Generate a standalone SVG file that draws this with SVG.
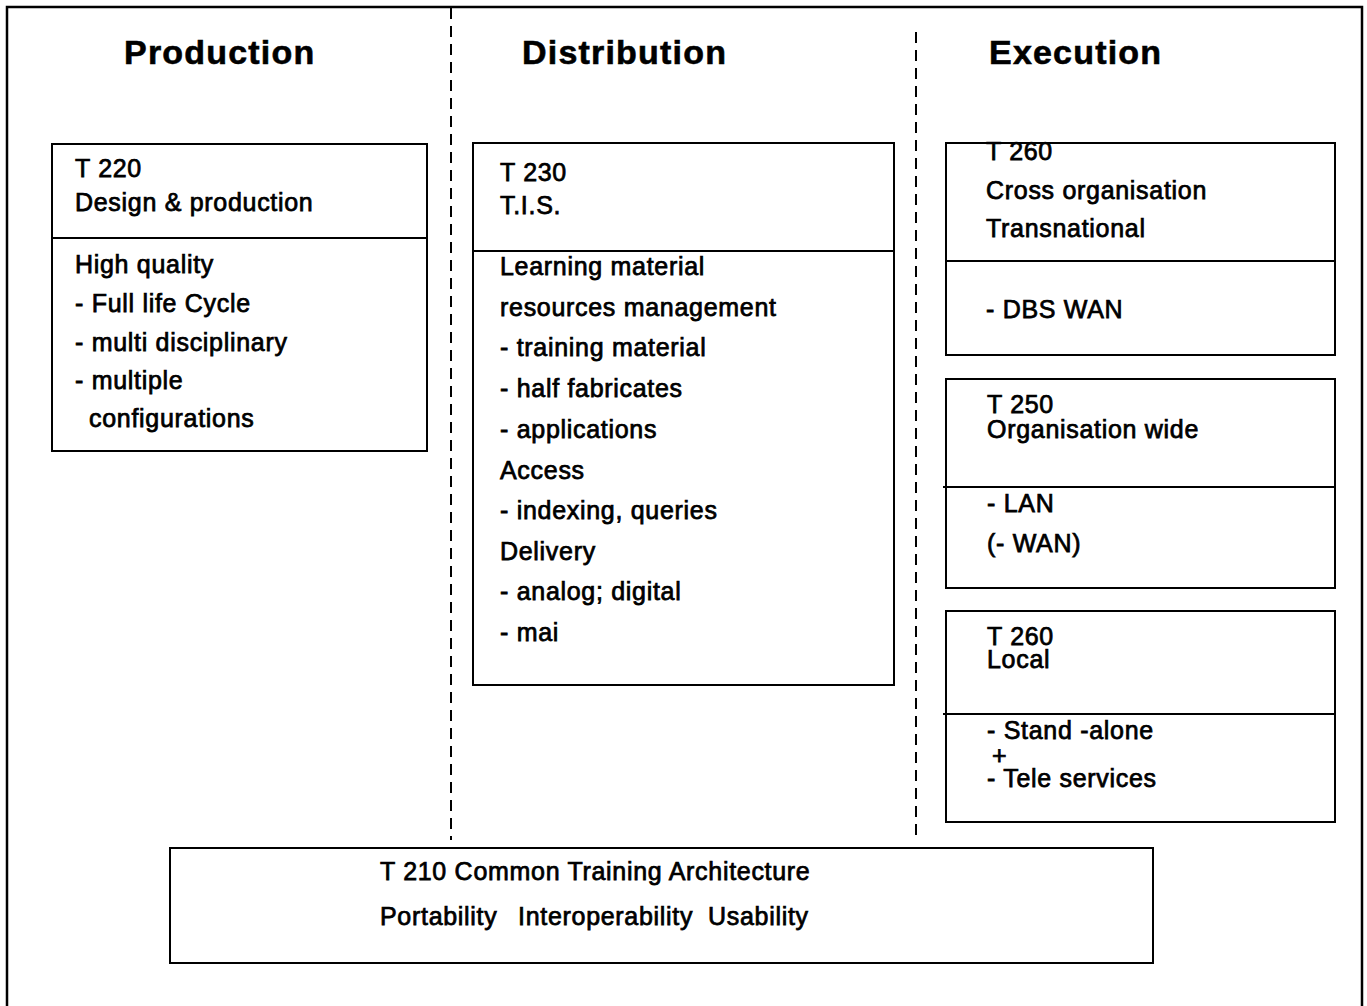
<svg xmlns="http://www.w3.org/2000/svg" width="1367" height="1006" viewBox="0 0 1367 1006">
<style>
.bg{fill:#fff}
.box{fill:none;stroke:#000;stroke-width:2}
.div{stroke:#000;stroke-width:2}
.frame{fill:none;stroke:#000;stroke-width:2.5}
.sep{stroke:#000;stroke-width:2;stroke-dasharray:11 7}
.h{font-family:"Liberation Sans",Arial,sans-serif;font-weight:bold;font-size:34px;letter-spacing:1.2px;fill:#000;stroke:#000;stroke-width:0.6}
.t{font-family:"Liberation Sans",Arial,sans-serif;font-size:25px;letter-spacing:0.7px;fill:#000;stroke:#000;stroke-width:0.75}
</style>
<rect class="bg" x="0" y="0" width="1367" height="1006"/>
<g id="frame">
<path class="frame" d="M7,1010 L7,7 L1362,7 L1362,1010"/>
</g>
<g id="columns">
<line class="sep" x1="451" y1="8" x2="451" y2="840"/>
<line class="sep" x1="916" y1="32" x2="916" y2="840"/>
</g>
<g id="headings">
<text class="h" x="124" y="64">Production</text>
<text class="h" x="522" y="64">Distribution</text>
<text class="h" x="989" y="64">Execution</text>
</g>
<g id="t220">
<rect class="box" x="52" y="144" width="375" height="307"/>
<line class="div" x1="52" y1="238" x2="427" y2="238"/>
<text class="t" x="75" y="177">T 220</text>
<text class="t" x="75" y="211">Design &amp; production</text>
<text class="t" x="75" y="273">High quality</text>
<text class="t" x="75" y="312">- Full life Cycle</text>
<text class="t" x="75" y="351">- multi disciplinary</text>
<text class="t" x="75" y="389">- multiple</text>
<text class="t" x="89" y="427">configurations</text>
</g>
<g id="t230">
<rect class="box" x="473" y="143" width="421" height="542"/>
<line class="div" x1="473" y1="251" x2="894" y2="251"/>
<text class="t" x="500" y="181">T 230</text>
<text class="t" x="500" y="214">T.I.S.</text>
<text class="t" x="500" y="275">Learning material</text>
<text class="t" x="500" y="316">resources management</text>
<text class="t" x="500" y="356">- training material</text>
<text class="t" x="500" y="397">- half fabricates</text>
<text class="t" x="500" y="438">- applications</text>
<text class="t" x="500" y="479">Access</text>
<text class="t" x="500" y="519">- indexing, queries</text>
<text class="t" x="500" y="560">Delivery</text>
<text class="t" x="500" y="600">- analog; digital</text>
<text class="t" x="500" y="641">- mai</text>
</g>
<g id="t260-cross">
<text class="t" x="986" y="160">T 260</text>
<rect class="box" x="946" y="143" width="389" height="212"/>
<line class="div" x1="946" y1="261" x2="1335" y2="261"/>
<text class="t" x="986" y="199">Cross organisation</text>
<text class="t" x="986" y="237">Transnational</text>
<text class="t" x="986" y="318">- DBS WAN</text>
</g>
<g id="t250">
<rect class="box" x="946" y="379" width="389" height="209"/>
<line class="div" x1="943" y1="487" x2="1335" y2="487"/>
<text class="t" x="987" y="413">T 250</text>
<text class="t" x="987" y="438">Organisation wide</text>
<text class="t" x="987" y="512">- LAN</text>
<text class="t" x="987" y="552">(- WAN)</text>
</g>
<g id="t260-local">
<rect class="box" x="946" y="611" width="389" height="211"/>
<line class="div" x1="943" y1="714" x2="1335" y2="714"/>
<text class="t" x="987" y="645">T 260</text>
<text class="t" x="987" y="668">Local</text>
<text class="t" x="987" y="739">- Stand -alone</text>
<text class="t" x="992" y="764">+</text>
<text class="t" x="987" y="787">- Tele services</text>
</g>
<g id="t210">
<rect class="box" x="170" y="848" width="983" height="115"/>
<text class="t" x="380" y="880" letter-spacing="1.1">T 210 Common Training Architecture</text>
<text class="t" x="380" y="925">Portability</text>
<text class="t" x="518" y="925">Interoperability</text>
<text class="t" x="708" y="925">Usability</text>
</g>
<g id="connectors"/>
</svg>
